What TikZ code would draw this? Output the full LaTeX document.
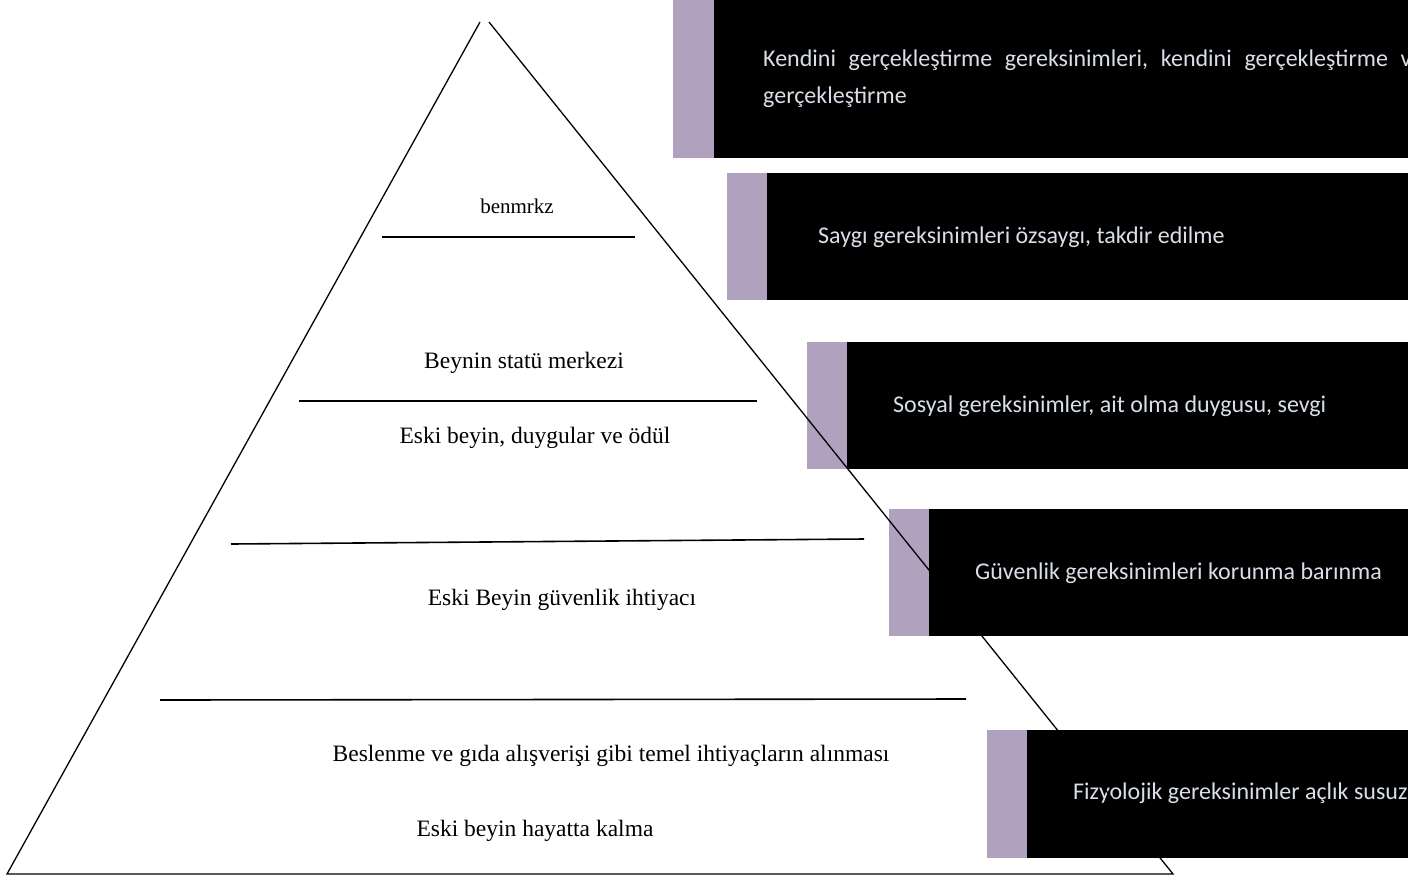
\documentclass[tikz,border=0pt]{standalone}
\usepackage{fontspec}
\setmainfont{Liberation Serif}
\newfontfamily\boxfont{Carlito}
\definecolor{strip}{HTML}{B0A2BE}
\definecolor{boxtext}{HTML}{D9DEE8}
\begin{document}
\begin{tikzpicture}[x=1pt,y=-1pt,
  lvl/.style={font=\fontsize{23.5}{28}\selectfont, inner sep=0pt},
  stripfill/.style={fill=strip, draw=none},
  bandfill/.style={fill=black, draw=none},
  btxt/.style={font=\boxfont\fontsize{24}{37}\selectfont, text=boxtext, anchor=west, inner sep=0pt, align=left},
  sepline/.style={line width=1.6pt},
  sideline/.style={line width=1.3pt}]
\useasboundingbox (0,0) rectangle (1408,879);
\clip (0,0) rectangle (1408,879);
\fill[white] (0,0) rectangle (1408,879);

% right-hand boxes
\path[stripfill] (673,0) rectangle (714,158);
\path[bandfill] (714,0) rectangle (1408,158);
\path[stripfill] (727,173) rectangle (767,300);
\path[bandfill] (767,173) rectangle (1408,300);
\path[stripfill] (807,342) rectangle (847,469);
\path[bandfill] (847,342) rectangle (1408,469);
\path[stripfill] (889,509) rectangle (929,636);
\path[bandfill] (929,509) rectangle (1408,636);
\path[stripfill] (987,730) rectangle (1027,858);
\path[bandfill] (1027,730) rectangle (1408,858);

\node[btxt] (t1) at (763,79) {\hbox to 660pt{Kendini\hfill gerçekleştirme\hfill gereksinimleri,\hfill kendini\hfill gerçekleştirme\hfill ve}\\gerçekleştirme};
\node[btxt] (t2) at (818,237) {Saygı gereksinimleri özsaygı, takdir edilme};
\node[btxt] (t3) at (893,406) {Sosyal gereksinimler, ait olma duygusu, sevgi};
\node[btxt] (t4) at (975,573) {Güvenlik gereksinimleri korunma barınma};
\node[btxt] (t5) at (1073,793) {Fizyolojik gereksinimler açlık susuzluk};

% pyramid
\coordinate (apl) at (480,22);
\coordinate (apr) at (489,22);
\coordinate (bl) at (7,874);
\coordinate (br) at (1173,874);
\draw[sideline] (apl) -- (bl) -- (br) -- (apr);

\coordinate (l1a) at (382,237); \coordinate (l1b) at (635,237);
\coordinate (l2a) at (299,401); \coordinate (l2b) at (757,401);
\coordinate (l3a) at (231,544); \coordinate (l3b) at (864,539);
\coordinate (l4a) at (160,700); \coordinate (l4b) at (966,699);
\draw[sepline] (l1a) -- (l1b);
\draw[sepline] (l2a) -- (l2b);
\draw[sepline] (l3a) -- (l3b);
\draw[sepline] (l4a) -- (l4b);

\node[lvl, font=\fontsize{21}{25}\selectfont] (p1) at (517,206) {benmrkz};
\node[lvl] (p2) at (524,363) {Beynin statü merkezi};
\node[lvl] (p3) at (535,438) {Eski beyin, duygular ve ödül};
\node[lvl] (p4) at (562,600) {Eski Beyin güvenlik ihtiyacı};
\node[lvl] (p5) at (611,756) {Beslenme ve gıda alışverişi gibi temel ihtiyaçların alınması};
\node[lvl] (p6) at (535,831) {Eski beyin hayatta kalma};
\end{tikzpicture}
\end{document}
